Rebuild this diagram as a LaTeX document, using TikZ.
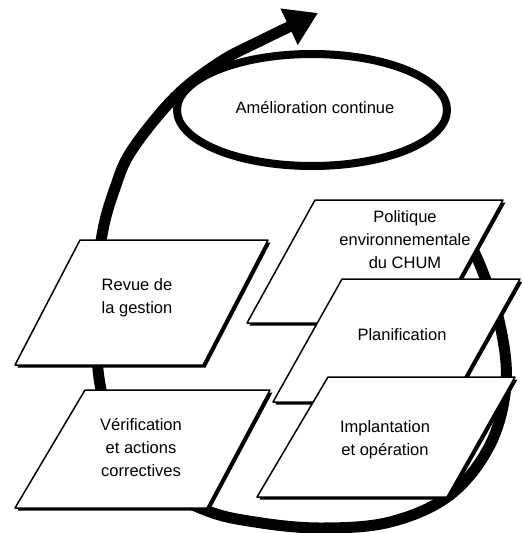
\documentclass[tikz,border=0pt]{standalone}
\usepackage{fontspec}
\setmainfont{Liberation Sans}
\usetikzlibrary{arrows.meta,shadows}
\begin{document}
\begin{tikzpicture}[x=1pt,y=-1pt,
    spiral/.style={line width=11pt},
    ringline/.style={line width=8pt},
    card/.style={fill=white,draw=black,line width=1.5pt,line join=round,
      drop shadow={shadow xshift=2.5pt,shadow yshift=-2.5pt,opacity=1,fill=black}},
    caption/.style={align=center,font=\fontsize{16.5}{23}\selectfont}]
  \useasboundingbox (0,0) rectangle (522,533);
  % the big cycle, behind the cards
  \draw[spiral,-{Triangle[length=32pt,width=38pt]}] plot[smooth,tension=0.6] coordinates {
    (455,215) (480,265) (500,325) (506,385) (490,445) (450,495) (390,522)
    (320,528) (255,522) (205,510) (150,480) (115,430) (99,378) (96,300)
    (102,235) (115,188) (132,150) (175,97) (220,62) (262,40) (318,13)};
  \draw[ringline] (312,110) ellipse [x radius=135, y radius=56];
  \node[caption] (amelioration) at (315,108) {Amélioration continue};
  % cards
  \draw[card] (315,200) -- (503,200) -- (435,323) -- (247,323) -- cycle;
  \node[caption] (politique) at (405,240) {Politique\\environnementale\\du CHUM};
  \draw[card] (80,240) -- (268,240) -- (203,365) -- (15,365) -- cycle;
  \node[caption] (revue) at (137,298) {Revue de\\la gestion};
  \draw[card] (342,279) -- (520,279) -- (451,402) -- (273,402) -- cycle;
  \node[caption] (planification) at (402,335) {Planification};
  \draw[card] (85,390) -- (270,390) -- (207,508) -- (15,508) -- cycle;
  \node[caption] (verification) at (141,447) {Vérification\\et actions\\correctives};
  \draw[card] (328,377) -- (515,377) -- (447,497) -- (257,497) -- cycle;
  \node[caption] (implantation) at (385,440) {Implantation\\et opération};
\end{tikzpicture}
\end{document}
